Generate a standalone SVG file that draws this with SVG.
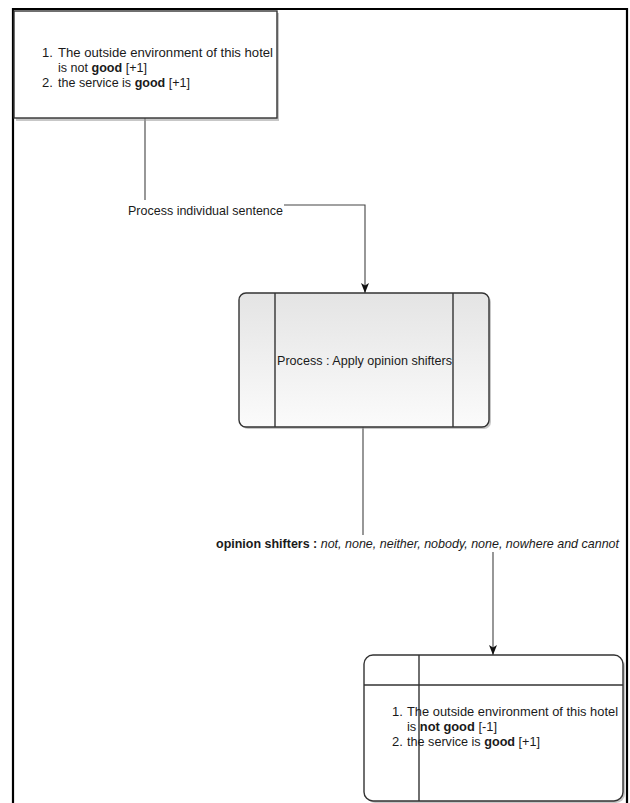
<svg xmlns="http://www.w3.org/2000/svg" width="630" height="803" viewBox="0 0 630 803">
<defs>
<linearGradient id="g" x1="0" y1="0" x2="0" y2="1"><stop offset="0" stop-color="#e4e4e4"/><stop offset="1" stop-color="#fbfbfb"/></linearGradient>
<marker id="arr" markerWidth="10" markerHeight="8" refX="10" refY="4" orient="auto" markerUnits="userSpaceOnUse"><path d="M0,0 L10,4 L0,8 L2.5,4 z" fill="#111"/></marker>
</defs>
<style>
text{font-family:"Liberation Sans",Arial,sans-serif;font-size:13px;fill:#1a1a1a}
.lbl{font-size:13.5px}
.b{font-weight:bold}
.i{font-style:italic}
.box{stroke:#333;stroke-width:1.4}
.sh{fill:#999;opacity:0.55}
.edge{fill:none;stroke:#444;stroke-width:1.1}
</style>
<rect x="0" y="0" width="630" height="803" fill="#fff"/>
<path d="M13,810 V9 H627 V810" fill="none" stroke="#000" stroke-width="2.2"/>
<g id="edges">
<path class="edge" d="M145,118 V205 H365 V293" marker-end="url(#arr)"/>
<path class="edge" d="M363,427 V543 H493 V655" marker-end="url(#arr)"/>
<rect x="126" y="200" width="158" height="18" fill="#fff"/>
<text class="lbl" x="128" y="215" textLength="155" lengthAdjust="spacingAndGlyphs">Process individual sentence</text>
<rect x="214" y="535" width="408" height="17" fill="#fff"/>
<text class="lbl" x="216" y="548" textLength="403" lengthAdjust="spacingAndGlyphs"><tspan class="b">opinion shifters : </tspan><tspan class="i">not, none, neither, nobody, none, nowhere and cannot</tspan></text>
</g>
<g id="input">
<rect class="sh" x="16" y="13" width="263" height="108"/>
<rect class="box" x="14" y="11" width="263" height="107" fill="#fff"/>
<text x="42" y="57">1.</text>
<text x="58" y="57" textLength="215" lengthAdjust="spacingAndGlyphs">The outside environment of this hotel</text>
<text x="58" y="72" textLength="89" lengthAdjust="spacingAndGlyphs">is not <tspan class="b">good</tspan> [+1]</text>
<text x="42" y="87">2.</text>
<text x="58" y="87" textLength="132" lengthAdjust="spacingAndGlyphs">the service is <tspan class="b">good</tspan> [+1]</text>
</g>
<g id="process">
<rect class="sh" x="241" y="295" width="250" height="134" rx="7"/>
<rect class="box" x="239" y="293" width="250" height="134" rx="7" fill="url(#g)"/>
<line class="box" x1="275" y1="293" x2="275" y2="427"/>
<line class="box" x1="453" y1="293" x2="453" y2="427"/>
<text class="lbl" x="277" y="365" textLength="175" lengthAdjust="spacingAndGlyphs">Process : Apply opinion shifters</text>
</g>
<g id="output">
<rect class="sh" x="366" y="657" width="259" height="146" rx="9"/>
<rect class="box" x="364" y="655" width="259" height="146" rx="9" fill="#fff"/>
<line class="box" x1="364" y1="685" x2="623" y2="685"/>
<line class="box" x1="419" y1="655" x2="419" y2="801"/>
<text x="392" y="716">1.</text>
<text x="407" y="716" textLength="211" lengthAdjust="spacingAndGlyphs">The outside environment of this hotel</text>
<text x="407" y="731" textLength="90" lengthAdjust="spacingAndGlyphs">is <tspan class="b">not good</tspan> [-1]</text>
<text x="392" y="746">2.</text>
<text x="407" y="746" textLength="133" lengthAdjust="spacingAndGlyphs">the service is <tspan class="b">good</tspan> [+1]</text>
</g>
</svg>
